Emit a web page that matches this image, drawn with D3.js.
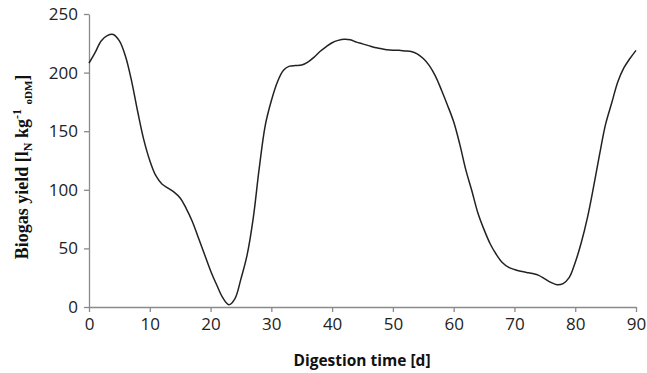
<!DOCTYPE html>
<html>
<head>
<meta charset="utf-8">
<script src="https://cdn.jsdelivr.net/npm/d3@7"></script>
<style>
  body { margin: 0; background: #fff; }
  .axis path, .axis line { stroke: #8a8a8a; stroke-width: 1.3; }
  .axis text { font-family: "Open Sans", sans-serif; font-size: 17px; fill: #222; }
</style>
</head>
<body>
<div id="chart"></div>
<script>
var width = 647;
var height = 373;

// digestion time (d) and biogas yield
var days = [0,1,2,3,4,5,6,7,8,9,10,11,12,13,14,15,16,17,18,19,20,21,22,23,24,25,26,27,28,29,
            30,31,32,33,34,35,36,37,38,39,40,41,42,43,44,45,46,47,48,49,50,51,52,53,54,55,56,57,58,59,
            60,61,62,63,64,65,66,67,68,69,70,71,72,73,74,75,76,77,78,79,80,81,82,83,84,85,86,87,88,89,90];
var yields = [208,217,227,231.5,232.5,227,214,193,167,143,125,112,105,101.5,98,93,84,73,59,45,31,19,8,2,7,24,44,75,118,155,
              176,192,202,205.5,206,206.5,209,213,218,222,225.5,227.5,228.5,228,226,224.5,223,221.5,220.5,219.5,219,219,218.5,218,216,212,206,197,185,172,
              158,139,117,99,80,66,54,45,38,34,32,30.5,29.5,28.5,27,24,21,19,20,25,38,55,76,102,130,156,174,192,204,212,219];
var xTicks = [0,10,20,30,40,50,60,70,80,90];
var yTicks = [0,50,100,150,200,250];

var margin = {left: 89, right: 11, top: 14, bottom: 66};

var svg = d3.select("#chart")
    .append("svg")
    .attr("width", width)
    .attr("height", height);

var xScale = d3.scaleLinear().domain([0, 90]).range([margin.left, width - margin.right]);
var yScale = d3.scaleLinear().domain([0, 250]).range([height - margin.bottom, margin.top]);

var xAxis = d3.axisBottom(xScale).tickValues(xTicks).tickSize(5).tickPadding(6).tickSizeOuter(0);
var yAxis = d3.axisLeft(yScale).tickValues(yTicks).tickSize(5).tickPadding(6).tickSizeOuter(0);

svg.append("g")
    .attr("class", "axis")
    .attr("transform", "translate(0," + yScale(0) + ")")
    .call(xAxis);

svg.append("g")
    .attr("class", "axis")
    .attr("transform", "translate(" + margin.left + ",0)")
    .call(yAxis);

var data = days.map(function(d, i) { return {day: d, v: yields[i]}; });

var line = d3.line()
    .x(function(d) { return xScale(d.day); })
    .y(function(d) { return yScale(d.v); })
    .curve(d3.curveCatmullRom);

svg.append("path")
    .datum(data)
    .attr("fill", "none")
    .attr("stroke", "#222")
    .attr("stroke-width", 1.5)
    .attr("d", line);

// x axis title
svg.append("text")
    .attr("x", 362)
    .attr("y", 366)
    .attr("text-anchor", "middle")
    .style("font-family", "'Open Sans', sans-serif")
    .style("font-weight", "bold")
    .style("font-size", "15.5px")
    .style("fill", "#111")
    .text("Digestion time [d]");

// y axis title
var yl = svg.append("text")
    .attr("transform", "translate(28,167) rotate(-90)")
    .attr("text-anchor", "middle")
    .style("font-family", "'Liberation Serif', serif")
    .style("font-weight", "bold")
    .style("font-size", "18px")
    .style("fill", "#111");
yl.append("tspan").text("Biogas yield [l");
yl.append("tspan").attr("dy", 4).style("font-size", "12px").text("N");
yl.append("tspan").attr("dy", -4).text(" kg");
yl.append("tspan").attr("dy", -7).style("font-size", "12px").text("-1");
yl.append("tspan").attr("dy", 7).text(" ");
yl.append("tspan").attr("dy", 4).style("font-size", "11px").text("oDM");
yl.append("tspan").attr("dy", -4).text("]");
</script>
</body>
</html>
